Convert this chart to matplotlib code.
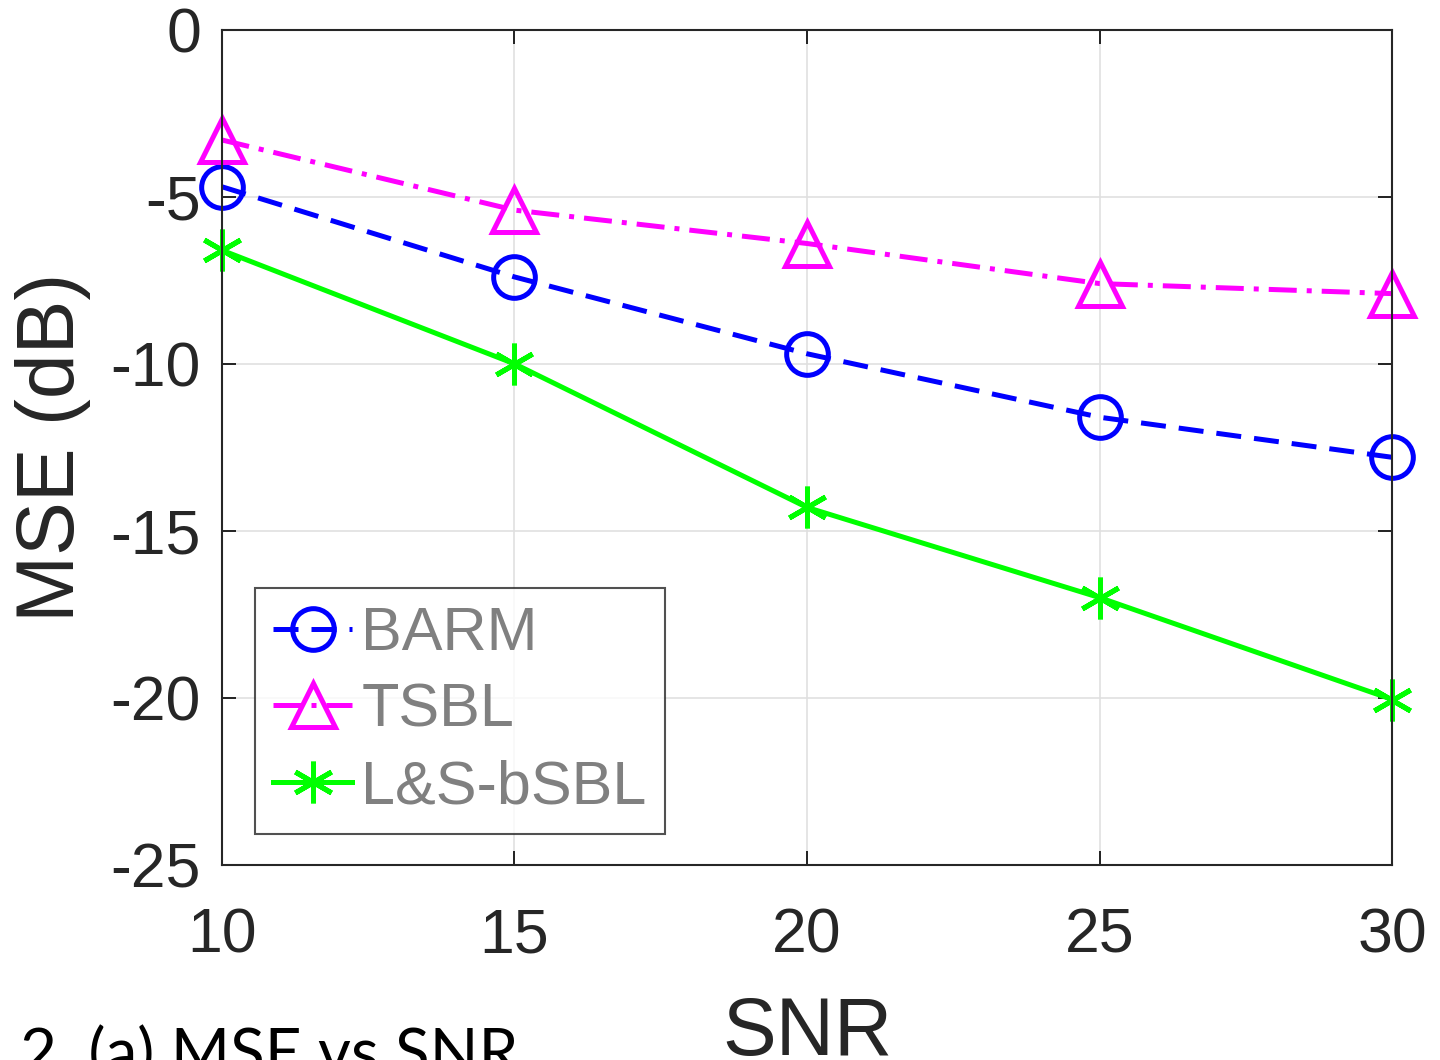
import matplotlib
matplotlib.use("Agg")
import matplotlib.pyplot as plt

snr = [10, 15, 20, 25, 30]
barm = [-4.7, -7.4, -9.7, -11.6, -12.8]
tsbl = [-3.3, -5.4, -6.4, -7.6, -7.9]
lsbsbl = [-6.6, -10.0, -14.3, -17.0, -20.05]
xticks = [10, 15, 20, 25, 30]
yticks = [0, -5, -10, -15, -20, -25]

plt.rcParams['font.family'] = ['Liberation Sans', 'DejaVu Sans']
plt.rcParams['axes.unicode_minus'] = False

fig = plt.figure(figsize=(14.4, 10.6), dpi=100)
ax = fig.add_axes([0.154, 0.184, 0.813, 0.788])

lw = 3.6
ax.plot(snr, barm, color='#0000ff', linestyle=(0, (5, 2.6)), linewidth=lw,
        marker='o', markersize=30, markerfacecolor='none', markeredgewidth=lw,
        label='BARM', clip_on=False)
ax.plot(snr, tsbl, color='#ff00ff', linestyle=(0, (5.6, 2, 1, 2)), linewidth=lw,
        marker='^', markersize=32, markerfacecolor='none', markeredgewidth=lw,
        label='TSBL', clip_on=False)
ax.plot(snr, lsbsbl, color='#00ff00', linestyle='-', linewidth=lw,
        marker=(6, 2, 0), markersize=30, markerfacecolor='none', markeredgewidth=lw,
        label='L&S-bSBL', clip_on=False)

ax.set_xlim(10, 30)
ax.set_ylim(-25, 0)
ax.set_xticks(xticks)
ax.set_yticks(yticks)
ax.tick_params(direction='in', length=10, width=1.2, top=True, right=True,
               labelsize=45, labelcolor='#262626')
ax.tick_params(axis='x', pad=30)
ax.tick_params(axis='y', pad=15)
ax.grid(True, color='#e0e0e0', linewidth=1.2)
ax.set_axisbelow(True)
for s in ax.spines.values():
    s.set_linewidth(1.5)
    s.set_color('#262626')

ax.set_xlabel('SNR', fontsize=58, color='#262626', labelpad=22)
ax.set_ylabel('MSE (dB)', fontsize=58, color='#262626', labelpad=14)

leg = ax.legend(loc='upper left', bbox_to_anchor=(0.028, 0.332), fontsize=44,
                frameon=True, fancybox=False, edgecolor='#262626',
                handlelength=1.3, handletextpad=0.15, borderpad=0.3,
                labelspacing=0.32, borderaxespad=0)
leg.get_frame().set_linewidth(1.5)
for t in leg.get_texts():
    t.set_color('#808080')

fig.text(0.014, -0.014, '2. (a) MSE vs SNR.', fontsize=46, family=['Lato', 'DejaVu Sans'],
         color='black', ha='left', va='baseline')

fig.savefig('out.png', dpi=100)
